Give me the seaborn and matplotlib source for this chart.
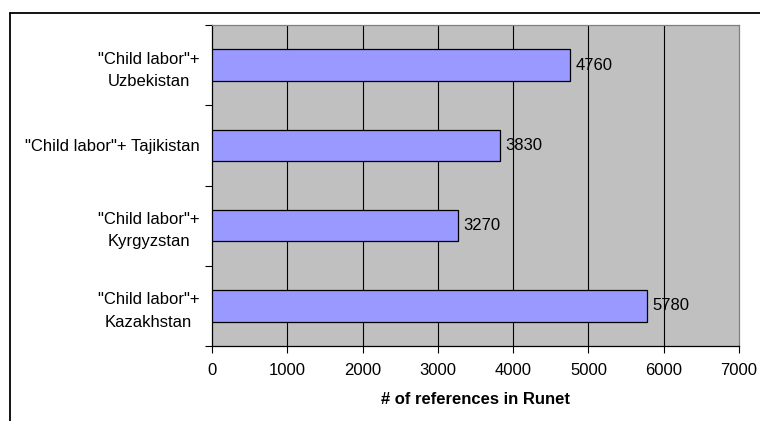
import matplotlib
matplotlib.use("Agg")
import matplotlib.pyplot as plt
from matplotlib.lines import Line2D
from matplotlib.ticker import FixedLocator, NullFormatter
import seaborn as sns
import pandas as pd

# Search hits in the Russian-language web, top to bottom
categories = ['"Child labor"+\nUzbekistan',
              '"Child labor"+ Tajikistan',
              '"Child labor"+\nKyrgyzstan',
              '"Child labor"+\nKazakhstan']
references = [4760, 3830, 3270, 5780]
x_ticks = [0, 1000, 2000, 3000, 4000, 5000, 6000, 7000]
x_label = "# of references in Runet"

FS = 12

sns.set_theme(style="white")
plt.rcParams["font.family"] = ["Liberation Sans", "DejaVu Sans"]
plt.rcParams["font.size"] = FS

df = pd.DataFrame({"query": categories, "refs": references})

fig = plt.figure(figsize=(7.6, 4.21), dpi=100)
W, H = 760, 421
ax = fig.add_axes([212 / W, 1 - 346 / H, (739 - 212) / W, (346 - 25) / H])

sns.barplot(data=df, y="query", x="refs", order=categories, orient="h",
            color="#9999FF", saturation=1, width=0.39,
            edgecolor="black", linewidth=0.9, ax=ax, zorder=3)

ax.set_facecolor("#C0C0C0")
ax.set_xlim(x_ticks[0], x_ticks[-1])
ax.set_ylim(len(categories) - 0.5, -0.5)

# vertical gridlines at the interior ticks
for v in x_ticks[1:-1]:
    ax.axvline(v, color="black", linewidth=0.8, zorder=1)

ax.set_xticks(x_ticks)
ax.set_xticklabels([str(v) for v in x_ticks], fontsize=FS, color="black")
ax.tick_params(axis="x", direction="out", length=5, width=0.8, color="black",
               bottom=True, pad=7)

# category labels centred on bars, tick marks on category boundaries
ax.set_yticks(range(len(categories)))
ax.set_yticklabels(categories, fontsize=FS, color="black",
                   multialignment="center", linespacing=1.6)
ax.tick_params(axis="y", which="major", length=0, pad=9)
ax.yaxis.set_minor_locator(FixedLocator([i - 0.5 for i in range(len(categories) + 1)]))
ax.yaxis.set_minor_formatter(NullFormatter())
ax.tick_params(axis="y", which="minor", left=True, direction="out",
               length=5, width=0.8, color="black")

ax.set_ylabel("")
ax.set_xlabel(x_label, fontsize=FS, fontweight="bold", color="black", labelpad=10)

for side in ("left", "bottom"):
    ax.spines[side].set_color("black")
    ax.spines[side].set_linewidth(0.9)
for side in ("top", "right"):
    ax.spines[side].set_color("#808080")
    ax.spines[side].set_linewidth(0.9)
    ax.spines[side].set_visible(True)

# value labels at bar ends
for i, v in enumerate(references):
    ax.annotate(str(v), xy=(v, i), xytext=(3.5, 0), textcoords="offset points",
                va="center", ha="left", fontsize=FS, color="black", zorder=4)

# chart frame
fig.add_artist(Line2D([10 / W, 10 / W], [0, 1 - 13 / H], color="black",
                      linewidth=1.3, transform=fig.transFigure))
fig.add_artist(Line2D([10 / W, 1], [1 - 13 / H, 1 - 13 / H], color="black",
                      linewidth=1.3, transform=fig.transFigure))

fig.savefig("out.png", dpi=100, facecolor="white")
